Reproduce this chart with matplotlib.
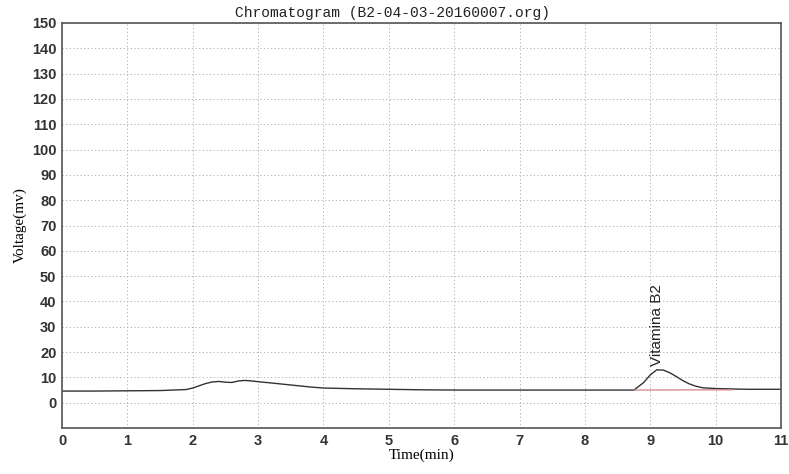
import matplotlib.pyplot as plt

# Chromatogram trace (time in min, signal in mV)
time = [0, 0.5, 1, 1.5, 1.9, 2.0, 2.1, 2.2, 2.3, 2.4, 2.5, 2.6, 2.7, 2.8, 2.9,
        3.0, 3.2, 3.5, 3.8, 4.0, 4.5, 5.0, 5.5, 6.0, 6.5, 7.0, 7.5, 8.0, 8.5,
        8.75, 8.9, 9.0, 9.1, 9.2, 9.3, 9.4, 9.5, 9.6, 9.7, 9.8, 10.0, 10.3,
        10.5, 11]
voltage = [4.6, 4.6, 4.7, 4.8, 5.2, 5.8, 6.7, 7.6, 8.2, 8.4, 8.1, 8.0, 8.6, 8.8,
           8.6, 8.3, 7.8, 7.0, 6.2, 5.8, 5.5, 5.3, 5.1, 5.0, 5.0, 5.0, 5.0, 5.0,
           5.0, 5.0, 8.0, 11.0, 13.0, 12.9, 11.8, 10.3, 8.7, 7.4, 6.5, 5.9,
           5.6, 5.4, 5.3, 5.3]

# integration baseline under the peak
base_t = [8.75, 10.25]
base_v = [5.0, 5.1]

peak_name = 'Vitamina B2'
peak_t = 9.1
peak_v = 13.0

fig = plt.figure(figsize=(7.89, 4.74), dpi=100)
ax = fig.add_axes([0.0786, 0.097, 0.9113, 0.8545])

ax.plot(time, voltage, color='#333333', lw=1.0)
ax.plot(base_t, base_v, color='#d08080', lw=0.9)
ax.text(peak_t, peak_v + 1.5, peak_name, rotation=90, ha='center', va='bottom',
        fontsize=11, family='Liberation Sans', color='#222222')

ax.set_xlim(0, 11)
ax.set_ylim(-10, 150)
ax.set_xticks(range(0, 12))
ax.set_yticks(range(0, 151, 10))
ax.grid(True, linestyle=(0, (1.2, 2.5)), color='#b0b0b0', lw=0.7)
for s in ax.spines.values():
    s.set_color('#555555')
    s.set_linewidth(1.2)
ax.tick_params(length=0, pad=4, labelsize=10.5, colors='#333333')
for lab in ax.get_xticklabels() + ax.get_yticklabels():
    lab.set_family('Liberation Sans')
    lab.set_fontweight('bold')

ax.set_title('Chromatogram (B2-04-03-20160007.org)', family='Liberation Mono',
             fontsize=10.5, pad=4, color='#222222', x=0.46)
ax.set_xlabel('Time(min)', family='Liberation Serif', fontsize=11, labelpad=1)
ax.set_ylabel('Voltage(mv)', family='Liberation Serif', fontsize=11, labelpad=4)

plt.savefig('out.png')
